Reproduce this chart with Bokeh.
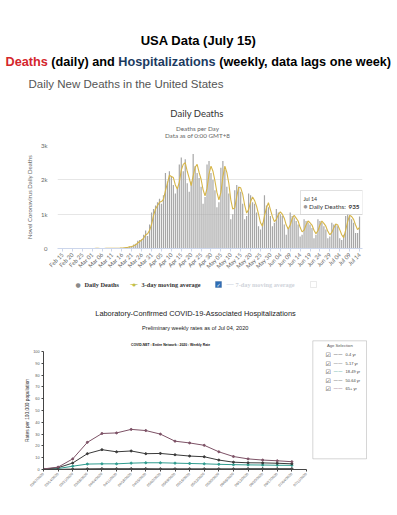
import pandas as pd
from math import pi
from bokeh.plotting import figure
from bokeh.layouts import column, row
from bokeh.models import Label, BoxAnnotation, FixedTicker, ColumnDataSource, Range1d
from bokeh.embed import file_html
from bokeh.resources import INLINE

# ---------------- data ----------------
death_tick_labels = ["Feb 15", "Feb 20", "Feb 25", "Mar 01", "Mar 06", "Mar 11", "Mar 16",
                     "Mar 21", "Mar 26", "Mar 31", "Apr 05", "Apr 10", "Apr 15", "Apr 20",
                     "Apr 25", "Apr 30", "May 05", "May 10", "May 15", "May 20", "May 25",
                     "May 30", "Jun 04", "Jun 09", "Jun 14", "Jun 19", "Jun 24", "Jun 29",
                     "Jul 04", "Jul 09", "Jul 14"]

deaths_feb = [0] * 14 + [1]
deaths_mar = [1, 4, 3, 2, 1, 2, 2, 3, 4, 5, 8, 7, 10, 10, 12, 18, 23, 34, 46, 60, 70, 114,
              140, 225, 247, 268, 400, 525, 363, 700, 1050]
deaths_apr = [1150, 1250, 1350, 1450, 1300, 1550, 2200, 1950, 2250, 2100, 1850, 1600, 1750,
              2450, 2650, 2250, 2600, 1900, 1650, 1950, 2750, 2400, 2200, 2050, 1800, 1300,
              1500, 2450, 2550, 2200]
deaths_may = [2000, 1700, 1200, 1350, 2350, 2550, 2300, 1800, 1600, 850, 1000, 1700, 1850,
              1800, 1650, 1300, 850, 950, 1600, 1550, 1350, 1300, 1050, 650, 550, 750, 1550,
              1250, 1200, 950, 650]
deaths_jun = [750, 1150, 1050, 1000, 950, 700, 400, 600, 1050, 950, 900, 800, 700, 350, 400,
              850, 800, 750, 700, 600, 300, 400, 850, 800, 750, 650, 550, 300, 350, 750]
deaths_jul = [700, 700, 650, 300, 250, 400, 950, 1000, 950, 850, 750, 450, 450, 935]

hosp_week_labels = ["03/07/2020", "03/14/2020", "03/21/2020", "03/28/2020", "04/04/2020",
                    "04/11/2020", "04/18/2020", "04/25/2020", "05/02/2020", "05/09/2020",
                    "05/16/2020", "05/23/2020", "05/30/2020", "06/06/2020", "06/13/2020",
                    "06/20/2020", "06/27/2020", "07/04/2020", "07/11/2020"]
age_groups = ["0-4 yr", "5-17 yr", "18-49 yr", "50-64 yr", "65+ yr"]
rate_0_4 = [0.0, 0.1, 0.3, 0.5, 0.6, 0.6, 0.6, 0.6, 0.5, 0.5, 0.5, 0.5, 0.5, 0.5, 0.6, 0.6, 0.6, 0.6]
rate_5_17 = [0.0, 0.0, 0.1, 0.1, 0.2, 0.2, 0.2, 0.2, 0.2, 0.2, 0.2, 0.2, 0.2, 0.2, 0.3, 0.3, 0.3, 0.3]
rate_18_49 = [0.2, 0.8, 2.8, 4.6, 4.8, 4.8, 5.4, 5.7, 5.7, 5.4, 5.1, 4.8, 4.4, 4.1, 3.9, 3.8, 3.6, 3.5]
rate_50_64 = [0.3, 1.5, 5.5, 13.4, 16.8, 15.0, 15.7, 13.4, 13.6, 12.5, 11.4, 10.8, 8.0, 6.2, 5.7, 5.6, 5.3, 4.8]
rate_65_plus = [0.5, 2.0, 9.0, 23.0, 30.5, 31.0, 34.0, 33.0, 30.0, 24.0, 22.5, 20.5, 15.0, 11.0, 9.0, 8.0, 7.4, 6.6]
age_colors = ["#2b2b2b", "#555555", "#2f9c8f", "#3a3a3a", "#7d5266"]


# ---------------- helpers ----------------
def sheet(x0, y0, x1, y1):
    """A text-only panel whose data coordinates equal page pixels."""
    p = figure(frame_width=x1 - x0, frame_height=y1 - y0, x_range=Range1d(x0, x1),
               y_range=Range1d(y1, y0), min_border=0, x_axis_type=None, y_axis_type=None,
               output_backend="svg", toolbar_location=None)
    p.frame_align = False
    p.outline_line_color = None
    p.background_fill_color = "white"
    p.border_fill_color = "white"
    return p


def txt(p, x, y, text, size, color="#333", font="Liberation Sans", style="normal",
        align="left", units="data", fl=0, fb=0):
    if units == "screen":
        x, y = x - fl, fb - y
    p.add_layout(Label(x=x, y=y, x_units=units, y_units=units, text=text,
                       text_font=font, text_font_size=f"{size}px", text_color=color,
                       text_font_style=style, text_align=align, text_baseline="middle"))


def rect(p, x0, y0, x1, y1, fill, line, alpha=1.0, units="data", fl=0, fb=0):
    if units == "screen":
        x0, x1, y0, y1 = x0 - fl, x1 - fl, fb - y0, fb - y1
    p.add_layout(BoxAnnotation(left=x0, right=x1, top=y0, bottom=y1,
                               left_units=units, right_units=units,
                               top_units=units, bottom_units=units,
                               fill_color=fill, fill_alpha=alpha, line_color=line,
                               line_width=1, level="annotation"))


# ---------------- header ----------------
hdr = sheet(0, 0, 397, 140)
txt(hdr, 198, 40, "USA Data (July 15)", 13, "#000000", style="bold", align="center")
txt(hdr, 5, 61.5, "Deaths", 12.7, "#d4252c", style="bold")
txt(hdr, 50.8, 61.5, "(daily) and", 12.7, "#000000", style="bold")
txt(hdr, 117.8, 61.5, "Hospitalizations", 12.7, "#1c3a5f", style="bold")
txt(hdr, 218.7, 61.5, "(weekly, data lags one week)", 12.7, "#000000", style="bold")
txt(hdr, 28, 83.5, "Daily New Deaths in the United States", 11.5, "#555555")
txt(hdr, 196.5, 112.5, "Daily Deaths", 9.5, "#333333", font="Lato", align="center")
txt(hdr, 197, 128, "Deaths per Day", 6.3, "#666666", font="Lato", align="center")
txt(hdr, 197, 135, "Data as of 0:00 GMT+8", 6.3, "#666666", font="Lato", align="center")

# ---------------- deaths figure ----------------
A_FL, A_FB = 57, 248
daily_deaths = deaths_feb + deaths_mar + deaths_apr + deaths_may + deaths_jun + deaths_jul
day_idx = list(range(len(daily_deaths)))
ma3 = pd.Series(daily_deaths, dtype=float).rolling(3).mean()
src = ColumnDataSource(dict(d=day_idx, deaths=daily_deaths, ma=ma3))

pA = figure(frame_width=305, frame_height=103, output_backend="svg", toolbar_location=None,
            x_range=(-2.5, 151.5), y_range=(0, 3000),
            min_border_left=57, min_border_right=35, min_border_top=5, min_border_bottom=26)
pA.frame_align = False
pA.outline_line_color = None
pA.background_fill_color = "white"
pA.border_fill_color = "white"
pA.xgrid.grid_line_color = None
pA.ygrid.grid_line_color = "#e6e6e6"

pA.vbar(x="d", top="deaths", width=0.6, source=src, fill_color="#a6a6a6", line_color=None)
pA.line(x="d", y="ma", source=src, line_color="#d6b548", line_width=1.1)

pA.xaxis.ticker = FixedTicker(ticks=[i * 5 for i in range(len(death_tick_labels))])
pA.xaxis.major_label_overrides = {i * 5: t for i, t in enumerate(death_tick_labels)}
pA.xaxis.major_label_orientation = pi / 4
pA.xaxis.major_label_text_font = "Lato"
pA.xaxis.major_label_text_font_size = "5.8px"
pA.xaxis.major_label_text_color = "#666666"
pA.xaxis.axis_line_color = "#ccd6eb"
pA.xaxis.major_tick_line_color = "#ccd6eb"
pA.xaxis.major_tick_in = 0
pA.xaxis.major_tick_out = 3
pA.xaxis.minor_tick_line_color = None
pA.xaxis.major_label_standoff = 2

pA.yaxis.ticker = FixedTicker(ticks=[0, 1000, 2000, 3000])
pA.yaxis.major_label_overrides = {0: "0", 1000: "1k", 2000: "2k", 3000: "3k"}
pA.yaxis.axis_line_color = None
pA.yaxis.major_tick_line_color = None
pA.yaxis.minor_tick_line_color = None
pA.yaxis.major_label_text_font = "Lato"
pA.yaxis.major_label_text_font_size = "6px"
pA.yaxis.major_label_text_color = "#666666"
pA.yaxis.major_label_standoff = 4
pA.yaxis.axis_label = "Novel Coronavirus Daily Deaths"
pA.yaxis.axis_label_text_font = "Lato"
pA.yaxis.axis_label_text_font_size = "6px"
pA.yaxis.axis_label_text_font_style = "normal"
pA.yaxis.axis_label_text_color = "#666666"
pA.yaxis.axis_label_standoff = 5

# tooltip (frame-relative screen units)
kw = dict(units="screen", fl=A_FL, fb=A_FB)
rect(pA, 300, 190, 362, 214, "white", "#999999", 0.92, **kw)
txt(pA, 303, 198.5, "Jul 14", 5.2, "#333333", font="Lato", **kw)
txt(pA, 303, 206, "●", 4.5, "#999999", font="DejaVu Sans", **kw)
txt(pA, 308.5, 206, "Daily Deaths:", 6.3, "#333333", font="Lato", **kw)
txt(pA, 348, 206, "935", 6.3, "#333333", font="Lato", style="bold", **kw)

# ---------------- deaths legend strip ----------------
leg = sheet(0, 274, 397, 296)
txt(leg, 77.7, 283, "●", 6, "#8a8a8a", font="DejaVu Sans", align="center")
txt(leg, 84, 283, "Daily Deaths", 6.3, "#333333", font="Liberation Serif", style="bold")
txt(leg, 133.5, 283, "—", 8, "#c4c04a", font="DejaVu Sans", align="center")
txt(leg, 133.5, 283, "●", 4, "#c4c04a", font="DejaVu Sans", align="center")
txt(leg, 141, 283, "3-day moving average", 6.3, "#333333", font="Liberation Serif", style="bold")
rect(leg, 215, 280, 221, 286, "#2d6db5", "#1f4f88")
txt(leg, 218, 283, "✓", 5, "#ffffff", font="DejaVu Sans", align="center")
txt(leg, 229.5, 283, "—", 8, "#d6dce6", font="DejaVu Sans", align="center")
txt(leg, 235, 283, "7-day moving average", 6.3, "#cfd3da", font="Liberation Serif", style="bold")
rect(leg, 310, 280, 316, 286, "white", "#bbbbbb")

# ---------------- hospitalization header ----------------
hdr2 = sheet(0, 296, 397, 336)
txt(hdr2, 195, 312, "Laboratory-Confirmed COVID-19-Associated Hospitalizations", 7.4, "#222222", align="center")
txt(hdr2, 194.7, 326.3, "Preliminary weekly rates as of Jul 04, 2020", 5.6, "#222222", align="center")

hdr3 = sheet(0, 336, 308, 346)
txt(hdr3, 170, 341.5, "COVID-NET : Entire Network : 2020 : Weekly Rate", 3.4, "#111111", style="bold", align="center")

# ---------------- hospitalization figure ----------------
rates = [rate_0_4, rate_5_17, rate_18_49, rate_50_64, rate_65_plus]
weeks = list(range(len(rate_0_4)))

pB = figure(frame_width=263, frame_height=118, output_backend="svg", toolbar_location=None,
            x_range=(0, 18), y_range=(0, 100),
            min_border_left=43, min_border_right=2, min_border_top=4, min_border_bottom=39)
pB.frame_align = False
pB.outline_line_color = None
pB.grid.grid_line_color = None
pB.background_fill_color = "white"
pB.border_fill_color = "white"

for name, vals, col in zip(age_groups, rates, age_colors):
    s = ColumnDataSource(dict(w=weeks, r=vals))
    pB.line(x="w", y="r", source=s, line_color=col, line_width=1)
    pB.scatter(x="w", y="r", source=s, size=2, marker="circle", fill_color=col, line_color=col)

pB.xaxis.ticker = FixedTicker(ticks=list(range(len(hosp_week_labels))))
pB.xaxis.major_label_overrides = {i: t for i, t in enumerate(hosp_week_labels)}
pB.xaxis.major_label_orientation = pi / 4
pB.xaxis.major_label_text_font_size = "3.6px"
pB.xaxis.major_label_text_color = "#555555"
pB.xaxis.axis_line_color = "#444444"
pB.xaxis.major_tick_line_color = "#444444"
pB.xaxis.major_tick_in = 0
pB.xaxis.major_tick_out = 2
pB.xaxis.minor_tick_line_color = None
pB.xaxis.major_label_standoff = 2

pB.yaxis.ticker = FixedTicker(ticks=list(range(0, 101, 10)))
pB.yaxis.major_label_text_font_size = "3.8px"
pB.yaxis.major_label_text_color = "#555555"
pB.yaxis.axis_line_color = "#444444"
pB.yaxis.major_tick_line_color = "#444444"
pB.yaxis.major_tick_in = 0
pB.yaxis.major_tick_out = 2
pB.yaxis.minor_tick_line_color = None
pB.yaxis.major_label_standoff = 2
pB.yaxis.axis_label = "Rates per 100,000 population"
pB.yaxis.axis_label_text_font_size = "4.8px"
pB.yaxis.axis_label_text_font_style = "normal"
pB.yaxis.axis_label_text_color = "#333333"
pB.yaxis.axis_label_standoff = 0

# ---------------- age legend ----------------
lg = sheet(308, 336, 397, 507)
rect(lg, 312.3, 339.3, 366, 457.3, "white", "#777777")
txt(lg, 339.3, 344, "Age Selection", 4.2, "#555555", align="center")
legend_y = [353.3, 361.7, 370, 378.7, 387]
for name, col, yy in zip(age_groups, age_colors, legend_y):
    txt(lg, 327.8, yy, "☑", 6, "#333333", font="DejaVu Sans", align="center")
    txt(lg, 337.4, yy, "——", 4.5, col, font="DejaVu Sans", align="center")
    txt(lg, 345, yy, name, 4, "#444444")

layout = column(hdr, pA, leg, hdr2,
                row(column(hdr3, pB, spacing=0), lg, spacing=0),
                spacing=0)
open("out.html", "w").write(file_html(layout, INLINE))
